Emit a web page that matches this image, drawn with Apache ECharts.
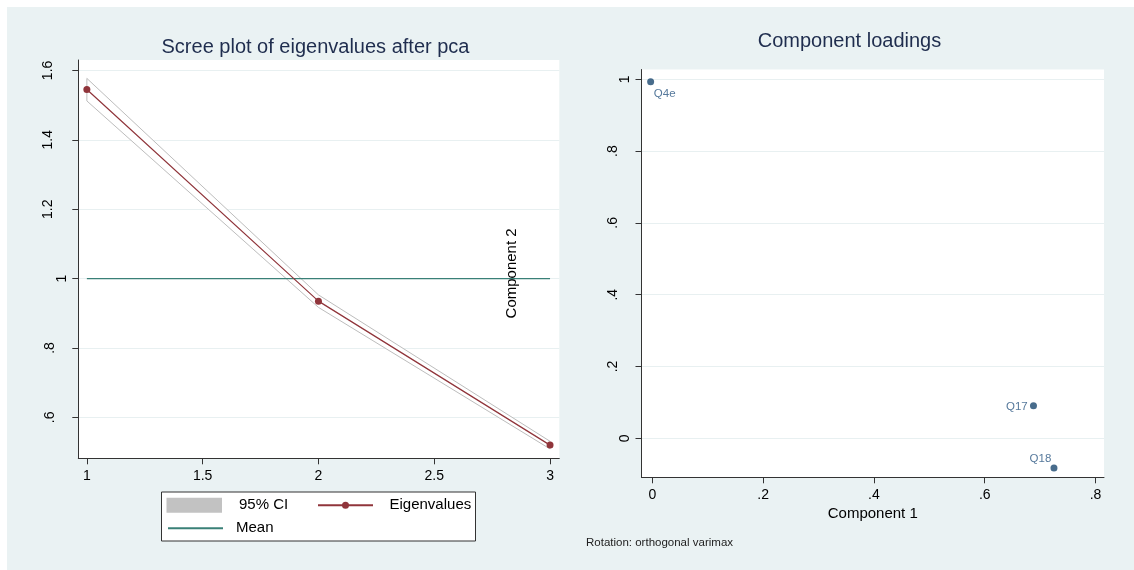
<!DOCTYPE html>
<html>
<head>
<meta charset="utf-8">
<script src="https://cdn.jsdelivr.net/npm/echarts@6/dist/echarts.min.js"></script>
<style>
  html, body { margin: 0; padding: 0; background: #ffffff; }
  #chart { width: 1134px; height: 570px; }
</style>
</head>
<body>
<div id="chart"></div>
<script>
// Scree plot: eigenvalues of the three principal components
const components = [1, 2, 3];
const eigenvalues = [1.545, 0.935, 0.520];
const ciUpper = [1.577, 0.953, 0.531];
const ciLower = [1.512, 0.917, 0.509];
const meanEigenvalue = 1;

// Varimax-rotated component loadings
const loadingNames = ['Q4e', 'Q17', 'Q18'];
const loadingComp1 = [-0.003, 0.688, 0.725];
const loadingComp2 = [0.993, 0.091, -0.083];

// Axis ticks and their labels
const screeXTicks = [1, 1.5, 2, 2.5, 3];
const screeXLabels = ['1', '1.5', '2', '2.5', '3'];
const screeYTicks = [0.6, 0.8, 1, 1.2, 1.4, 1.6];
const screeYLabels = ['.6', '.8', '1', '1.2', '1.4', '1.6'];
const loadXTicks = [0, 0.2, 0.4, 0.6, 0.8];
const loadXLabels = ['0', '.2', '.4', '.6', '.8'];
const loadYTicks = [0, 0.2, 0.4, 0.6, 0.8, 1];
const loadYLabels = ['0', '.2', '.4', '.6', '.8', '1'];

const FONT = '"Liberation Sans", Arial, Helvetica, sans-serif';
const AXIS_COLOR = '#333333';
const GRID_LINE = '#E8F0F1';
const MAROON = '#90353B';
const TEAL = '#3A8077';
const NAVY = '#1A476F';

function labelLookup(ticks, labels) {
  return function (v) {
    const i = ticks.findIndex(t => Math.abs(t - v) < 1e-9);
    return i >= 0 ? labels[i] : '';
  };
}

// vertical tick labels: short labels sit closer to the axis
function rotatedLabel(ticks, labels) {
  const look = labelLookup(ticks, labels);
  return function (v) {
    const s = look(v);
    const key = s.length <= 1 ? 'r1' : (s.length === 2 ? 'r2' : 'r3');
    return '{' + key + '|' + s + '}';
  };
}
const rotatedRich = {
  r1: { fontSize: 14, fontFamily: FONT, color: '#000' },
  r2: { fontSize: 14, fontFamily: FONT, color: '#000', padding: [0, 0, 12, 0] },
  r3: { fontSize: 14, fontFamily: FONT, color: '#000', padding: [0, 0, 14, 0] }
};

// placement of the loading labels around their markers
const loadingLabelPlacement = {
  Q4e: { position: [6.7, 15.8], align: 'left' },
  Q17: { position: [-2.3, 4.5], align: 'right' },
  Q18: { position: [-10, -5.5], align: 'center' }
};

const axisLine = { show: true, onZero: false, lineStyle: { color: AXIS_COLOR, width: 1 } };
const axisTickStyle = { color: AXIS_COLOR, width: 1 };

const chart = echarts.init(document.getElementById('chart'), null, { renderer: 'canvas' });

chart.setOption({
  animation: false,
  backgroundColor: '#EAF2F3',
  graphic: [
    { type: 'rect', silent: true, shape: { x: 0, y: 0, width: 1134, height: 7 }, style: { fill: '#ffffff' } },
    { type: 'rect', silent: true, shape: { x: 0, y: 0, width: 7, height: 570 }, style: { fill: '#ffffff' } },
    { type: 'rect', silent: true, shape: { x: 161.5, y: 492, width: 314, height: 49 },
      style: { fill: '#ffffff', stroke: '#333333', lineWidth: 1 } },
    { type: 'text', silent: true, x: 315.5, y: 47.5,
      style: { text: 'Scree plot of eigenvalues after pca', fontSize: 20, fontFamily: FONT,
               fill: '#1F2D4E', align: 'center', verticalAlign: 'middle' } },
    { type: 'text', silent: true, x: 849.5, y: 41.5,
      style: { text: 'Component loadings', fontSize: 20, fontFamily: FONT,
               fill: '#1F2D4E', align: 'center', verticalAlign: 'middle' } },
    { type: 'text', silent: true, x: 586, y: 543,
      style: { text: 'Rotation: orthogonal varimax', fontSize: 11.5, fontFamily: FONT,
               fill: '#222222', align: 'left', verticalAlign: 'middle' } }
  ],
  legend: [
    {
      data: [{ name: '95% CI', icon: 'rect', itemStyle: { color: '#C2C2C2', borderWidth: 0 } }],
      left: 166.5, top: 497.8, padding: 0, itemWidth: 55.5, itemHeight: 15, selectedMode: false,
      textStyle: { fontSize: 15, fontFamily: FONT, color: '#000', padding: [0, 0, 0, 12] }
    },
    {
      data: ['Eigenvalues'],
      left: 317, top: 497.8, padding: 0, itemWidth: 55, itemHeight: 8.75, selectedMode: false,
      textStyle: { fontSize: 15, fontFamily: FONT, color: '#000', padding: [0, 0, 0, 11.5] }
    },
    {
      data: [{ name: 'Mean', itemStyle: { opacity: 0 } }],
      left: 167, top: 520.8, padding: 0, itemWidth: 55, itemHeight: 9, selectedMode: false,
      textStyle: { fontSize: 15, fontFamily: FONT, color: '#000', padding: [0, 0, 0, 8] }
    }
  ],
  grid: [
    { left: 78.3, top: 60, right: 574.7, bottom: 111.7, show: true, backgroundColor: '#ffffff', borderWidth: 0 },
    { left: 641.5, top: 69.5, right: 30, bottom: 92.7, show: true, backgroundColor: '#ffffff', borderWidth: 0 }
  ],
  xAxis: [
    {
      gridIndex: 0, type: 'value', min: 0.963, max: 3.040,
      axisLine: axisLine,
      axisTick: { show: true, length: 6, customValues: screeXTicks, lineStyle: axisTickStyle },
      axisLabel: { customValues: screeXTicks, formatter: labelLookup(screeXTicks, screeXLabels),
                   margin: 10.5, fontSize: 14, fontFamily: FONT, color: '#000' },
      splitLine: { show: false }
    },
    {
      gridIndex: 1, type: 'value', min: -0.0195, max: 0.8153,
      name: 'Component 1', nameLocation: 'middle', nameGap: 24.4,
      nameTextStyle: { fontSize: 15, fontFamily: FONT, color: '#000' },
      axisLine: axisLine,
      axisTick: { show: true, length: 6, customValues: loadXTicks, lineStyle: axisTickStyle },
      axisLabel: { customValues: loadXTicks, formatter: labelLookup(loadXTicks, loadXLabels),
                   margin: 10.5, fontSize: 14, fontFamily: FONT, color: '#000' },
      splitLine: { show: false }
    }
  ],
  yAxis: [
    {
      gridIndex: 0, type: 'value', min: 0.482, max: 1.630,
      axisLine: axisLine,
      axisTick: { show: true, length: 6, customValues: screeYTicks, lineStyle: axisTickStyle },
      axisLabel: { customValues: screeYTicks, formatter: rotatedLabel(screeYTicks, screeYLabels),
                   rotate: 90, margin: 9.5, fontSize: 14, fontFamily: FONT, color: '#000', rich: rotatedRich },
      splitLine: { show: true, lineStyle: { color: GRID_LINE, width: 1 } }
    },
    {
      gridIndex: 1, type: 'value', min: -0.1086, max: 1.0273,
      name: 'Component 2', nameLocation: 'middle', nameGap: 122, nameRotate: 90,
      nameTextStyle: { fontSize: 15, fontFamily: FONT, color: '#000' },
      axisLine: axisLine,
      axisTick: { show: true, length: 6, customValues: loadYTicks, lineStyle: axisTickStyle },
      axisLabel: { customValues: loadYTicks, formatter: rotatedLabel(loadYTicks, loadYLabels),
                   rotate: 90, margin: 9.5, fontSize: 14, fontFamily: FONT, color: '#000', rich: rotatedRich },
      splitLine: { show: true, lineStyle: { color: GRID_LINE, width: 1 } }
    }
  ],
  series: [
    {
      name: '95% CI',
      type: 'custom',
      xAxisIndex: 0, yAxisIndex: 0,
      itemStyle: { color: '#C2C2C2' },
      data: components.map((c, i) => [c, ciUpper[i], ciLower[i]]),
      encode: { x: 0, y: [1, 2] },
      renderItem: function (params, api) {
        if (params.dataIndex !== 0) return null;
        const pts = [];
        for (let i = 0; i < components.length; i++) pts.push(api.coord([components[i], ciUpper[i]]));
        for (let i = components.length - 1; i >= 0; i--) pts.push(api.coord([components[i], ciLower[i]]));
        return {
          type: 'polygon',
          shape: { points: pts },
          style: { fill: '#ffffff', stroke: '#BDBDBD', lineWidth: 1 }
        };
      }
    },
    {
      name: 'Mean',
      type: 'line',
      xAxisIndex: 0, yAxisIndex: 0,
      symbol: 'none',
      color: TEAL,
      lineStyle: { color: TEAL, width: 1.2 },
      data: [[components[0], meanEigenvalue], [components[components.length - 1], meanEigenvalue]]
    },
    {
      name: 'Eigenvalues',
      type: 'line',
      xAxisIndex: 0, yAxisIndex: 0,
      symbol: 'circle', symbolSize: 7, showSymbol: true,
      color: MAROON,
      itemStyle: { color: MAROON },
      lineStyle: { color: MAROON, width: 1.2 },
      data: components.map((c, i) => [c, eigenvalues[i]])
    },
    {
      name: 'Loadings',
      type: 'scatter',
      xAxisIndex: 1, yAxisIndex: 1,
      symbol: 'circle', symbolSize: 7,
      itemStyle: { color: NAVY },
      label: {
        show: true, formatter: '{b}', fontSize: 11.5, fontFamily: FONT, color: '#2A5682',
        verticalAlign: 'middle'
      },
      data: loadingNames.map((n, i) => ({
        name: n,
        value: [loadingComp1[i], loadingComp2[i]],
        label: loadingLabelPlacement[n]
      }))
    }
  ]
});
</script>
</body>
</html>
